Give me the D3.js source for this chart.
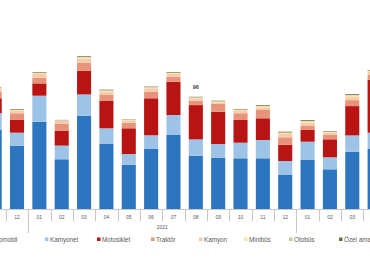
<!DOCTYPE html>
<html><head><meta charset="utf-8">
<script src="https://cdn.jsdelivr.net/npm/d3@7"></script>
<style>html,body{margin:0;padding:0;background:#fff;overflow:hidden}svg{display:block}</style>
</head><body>
<svg id="c" width="370" height="280"></svg>
<script>
// ---- data (thousands of vehicles) ----
const months = ["11","12","01","02","03","04","05","06","07","08","09","10","11","12","01","02","03","04"];
const years  = ["2020","2020","2021","2021","2021","2021","2021","2021","2021","2021","2021","2021","2021","2021","2022","2022","2022","2022"];
const otomobil   = [79,63.3,87.3,49.7,93.3,65,44.3,60,74,53.3,51.3,50.7,50.7,34,49,39.7,57.3,60];
const kamyonet   = [16.7,13,26,13.7,21.3,15.7,10.7,13.7,20,16.3,13.7,15.6,18.3,14,18.3,12,16.3,16.3];
const motosiklet = [15,12.7,12.3,15,23.6,27.3,25.7,37,33.3,34.3,32.3,22.7,21.7,16.3,11.7,18,29.3,53];
const traktor    = [6.6,6.7,5.6,6.7,8,6,5.6,6.6,5,4.3,7.7,6.7,8.3,7.4,4,4.3,6,5];
const kamyon     = [3,2.6,3.7,3,4.3,3.3,2.4,3.4,2.7,2.4,1.7,2.6,2.7,3.3,3.3,2.3,3.3,3];
const minibus    = [0.6,0.8,1.0,0.5,1.1,1.0,0.5,0.8,1.0,0.8,0.8,0.8,1.1,1.1,1.3,0.8,1.3,0.8];
const otobus     = [0.3,0.3,0.4,0.2,0.5,0.4,0.2,0.4,0.4,0.3,0.3,0.4,0.5,0.5,0.6,0.4,0.6,0.4];
const ozel       = [0.4,0.6,0.6,0.3,0.7,0.6,0.3,0.5,0.6,0.5,0.5,0.5,0.7,0.7,0.8,0.5,0.8,0.5];
const seriesNames = ["Otomobil","Kamyonet","Motosiklet","Traktör","Kamyon","Minibüs","Otobüs","Özel amaçlı taşıtlar"];
const annotIndex = [9];
const annotText  = ["96"];

// ---- styles / layout ----
const colors = ["#2e75c0","#9dc3e6","#b81414","#e8937c","#f8cbad","#fbe3a0","#c8c8a0","#6e6a3a"];
const seriesVals = [otomobil,kamyonet,motosiklet,traktor,kamyon,minibus,otobus,ozel];
const svg = d3.select("#c");
const font = "'Liberation Sans', Arial, sans-serif";

const cats = months.map((m,i)=>i);
const x = d3.scaleBand().domain(cats).range([-16.5, -16.5 + 22.35*18]).paddingInner(0.37).paddingOuter(0.185);
const y = d3.scaleLinear().domain([0,160]).range([209,49]);

const rows = cats.map(i => { const r = {i}; seriesNames.forEach((s,k)=> r[s] = seriesVals[k][i]); return r; });
const stack = d3.stack().keys(seriesNames)(rows);

svg.append("g").selectAll("g").data(stack).join("g")
  .attr("fill",(d,k)=>colors[k])
  .selectAll("rect").data(d=>d).join("rect")
  .attr("x",d=>x(d.data.i)).attr("width",x.bandwidth())
  .attr("y",d=>y(d[1])).attr("height",d=>Math.max(0,y(d[0])-y(d[1])));

// annotation
const totals = cats.map(i => seriesVals.reduce((s,a)=>s+a[i],0));
annotIndex.forEach((ci,k)=>{
  svg.append("text").attr("x",x(ci)+x.bandwidth()/2).attr("y",y(totals[ci])-7.5)
    .attr("text-anchor","middle").attr("font-family",font).attr("font-size",5.5).attr("font-weight","bold")
    .attr("fill","#404040").text(annotText[k]);
});

// axis
const axisG = svg.append("g");
axisG.append("line").attr("x1",0).attr("x2",370).attr("y1",y(0)+0.5).attr("y2",y(0)+0.5).attr("stroke","#c8c8c8").attr("stroke-width",1);
const step = x.step();
const x0 = x.range()[0];
for (let i=0;i<=cats.length;i++){
  const bx = Math.round(x0 + i*step)+0.5;
  const yearBoundary = i>0 && i<cats.length && years[i]!==years[i-1];
  axisG.append("line").attr("x1",bx).attr("x2",bx).attr("y1",y(0)).attr("y2",yearBoundary?233:221)
    .attr("stroke","#c8c8c8").attr("stroke-width",1);
}
axisG.selectAll("text.m").data(cats).join("text").attr("class","m")
  .attr("x",i=>x(i)+x.bandwidth()/2).attr("y",218.5).attr("text-anchor","middle")
  .attr("font-family",font).attr("font-size",5).attr("fill","#595959").text(i=>months[i]);
// year labels (only 2021 group fully visible)
const yearList = Array.from(new Set(years));
yearList.forEach(yr=>{
  const idx = cats.filter(i=>years[i]===yr);
  const a = x0 + idx[0]*step, b = x0 + (idx[idx.length-1]+1)*step;
  if (yr==="2021") {
    axisG.append("text").attr("x",(a+b)/2).attr("y",229).attr("text-anchor","middle")
      .attr("font-family",font).attr("font-size",5).attr("fill","#595959").text(yr);
  }
});

// legend
const legendX = [-13,45,97,151,199,244,289,339];
const lg = svg.append("g");
seriesNames.forEach((s,k)=>{
  lg.append("rect").attr("x",legendX[k]).attr("y",237.5).attr("width",3.5).attr("height",3.5).attr("fill",colors[k]);
  lg.append("text").attr("x",legendX[k]+5).attr("y",241.5).attr("font-family",font).attr("font-size",6.3)
    .attr("fill","#595959").text(s);
});
</script>
</body></html>
